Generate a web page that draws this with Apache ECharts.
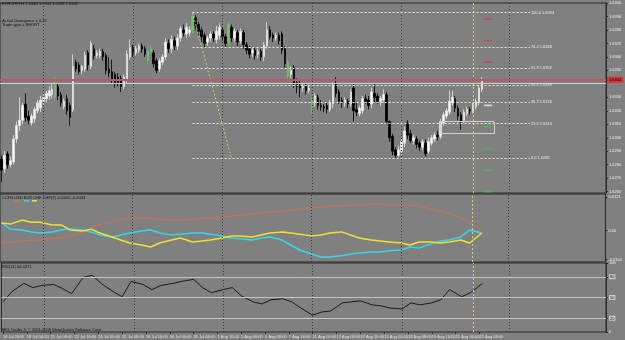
<!DOCTYPE html>
<html>
<head>
<meta charset="utf-8">
<script src="https://cdn.jsdelivr.net/npm/echarts@6/dist/echarts.min.js"></script>
<style>
  html, body { margin: 0; background: #808080; }
  #chart { width: 625px; height: 340px; }
</style>
</head>
<body>
<div id="chart"></div>
<script>
// H4 bars, 16 Jul 2008 16:00 .. 22 Aug 2008 12:00, plus empty room on the right
const barCount = 203
const timeLabels = ['16 Jul 2008', '18 Jul 00:00', '21 Jul 08:00', '22 Jul 16:00', '24 Jul 00:00',
  '25 Jul 08:00', '28 Jul 16:00', '30 Jul 00:00', '31 Jul 08:00', '1 Aug 16:00', '5 Aug 00:00',
  '6 Aug 08:00', '7 Aug 16:00', '11 Aug 00:00', '12 Aug 08:00', '13 Aug 16:00', '15 Aug 00:00',
  '18 Aug 08:00', '19 Aug 16:00', '21 Aug 00:00', '22 Aug 08:00']
const priceTicks = [1.6260, 1.6270, 1.6280, 1.6290, 1.6300, 1.6310, 1.6320, 1.6330,
  1.6350, 1.6360, 1.6370, 1.6380, 1.6390, 1.6400]

const opens = [1.6284, 1.6277, 1.6288, 1.6280, 1.6282, 1.6299, 1.6309, 1.6313, 1.6325, 1.6316,
  1.6311, 1.6314, 1.6320, 1.6322, 1.6327, 1.6329, 1.6331, 1.6332, 1.6330, 1.6338,
  1.6332, 1.6323, 1.6329, 1.6324, 1.6321, 1.6356, 1.6354, 1.6350, 1.6351, 1.6363,
  1.6353, 1.6366, 1.6361, 1.6361, 1.6364, 1.6361, 1.6351, 1.6349, 1.6347, 1.6345,
  1.6344, 1.6338, 1.6343, 1.6360, 1.6367, 1.6363, 1.6365, 1.6368, 1.6366, 1.6358,
  1.6364, 1.6363, 1.6357, 1.6351, 1.6356, 1.6360, 1.6370, 1.6366, 1.6372, 1.6368,
  1.6374, 1.6380, 1.6377, 1.6378, 1.6380, 1.6389, 1.6384, 1.6380, 1.6376, 1.6371,
  1.6374, 1.6377, 1.6373, 1.6376, 1.6380, 1.6375, 1.6371, 1.6382, 1.6374, 1.6378,
  1.6372, 1.6378, 1.6369, 1.6366, 1.6363, 1.6365, 1.6362, 1.6364, 1.6360, 1.6368,
  1.6380, 1.6376, 1.6374, 1.6376, 1.6377, 1.6366, 1.6356, 1.6347, 1.6352, 1.6341,
  1.6339, 1.6337, 1.6338, 1.6335, 1.6321, 1.6326, 1.6330, 1.6324, 1.6323, 1.6324,
  1.6321, 1.6325, 1.6340, 1.6334, 1.6328, 1.6326, 1.6327, 1.6325, 1.6337, 1.6321,
  1.6318, 1.6320, 1.6329, 1.6328, 1.6325, 1.6333, 1.6331, 1.6327, 1.6328, 1.6332,
  1.6312, 1.6301, 1.6291, 1.6287, 1.6290, 1.6296, 1.6311, 1.6303, 1.6298, 1.6299,
  1.6296, 1.6293, 1.6296, 1.6290, 1.6296, 1.6299, 1.6302, 1.6301, 1.6311, 1.6316,
  1.6319, 1.6326, 1.6329, 1.6322, 1.6317, 1.6313, 1.6318, 1.6321, 1.6320, 1.6323,
  1.6326, 1.6336]
const closes = [1.6276, 1.6287, 1.6280, 1.6283, 1.6299, 1.6309, 1.6313, 1.6324, 1.6315, 1.6313,
  1.6316, 1.6321, 1.6326, 1.6328, 1.6330, 1.6333, 1.6335, 1.6336, 1.6339, 1.6331,
  1.6326, 1.6327, 1.6320, 1.6315, 1.6353, 1.6351, 1.6349, 1.6353, 1.6361, 1.6354,
  1.6370, 1.6361, 1.6363, 1.6364, 1.6360, 1.6350, 1.6348, 1.6343, 1.6340, 1.6341,
  1.6338, 1.6345, 1.6362, 1.6367, 1.6363, 1.6366, 1.6368, 1.6366, 1.6362, 1.6364,
  1.6366, 1.6355, 1.6350, 1.6357, 1.6360, 1.6371, 1.6366, 1.6373, 1.6368, 1.6374,
  1.6381, 1.6378, 1.6382, 1.6380, 1.6390, 1.6383, 1.6379, 1.6375, 1.6370, 1.6374,
  1.6377, 1.6374, 1.6379, 1.6382, 1.6375, 1.6370, 1.6384, 1.6374, 1.6379, 1.6371,
  1.6379, 1.6369, 1.6365, 1.6362, 1.6365, 1.6361, 1.6364, 1.6360, 1.6369, 1.6380,
  1.6375, 1.6374, 1.6376, 1.6372, 1.6365, 1.6355, 1.6346, 1.6350, 1.6340, 1.6338,
  1.6337, 1.6338, 1.6335, 1.6337, 1.6328, 1.6331, 1.6324, 1.6323, 1.6322, 1.6321,
  1.6326, 1.6339, 1.6333, 1.6327, 1.6326, 1.6328, 1.6325, 1.6334, 1.6320, 1.6319,
  1.6322, 1.6329, 1.6327, 1.6324, 1.6334, 1.6330, 1.6327, 1.6329, 1.6332, 1.6312,
  1.6300, 1.6290, 1.6287, 1.6291, 1.6297, 1.6305, 1.6302, 1.6298, 1.6300, 1.6295,
  1.6293, 1.6297, 1.6288, 1.6297, 1.6300, 1.6302, 1.6301, 1.6312, 1.6317, 1.6320,
  1.6327, 1.6330, 1.6322, 1.6316, 1.6312, 1.6319, 1.6321, 1.6320, 1.6324, 1.6327,
  1.6337, 1.6342]
const lows = [1.6267, 1.6274, 1.6277, 1.6278, 1.6280, 1.6296, 1.6305, 1.6310, 1.6312, 1.6310,
  1.6309, 1.6311, 1.6318, 1.6319, 1.6324, 1.6326, 1.6328, 1.6329, 1.6327, 1.6328,
  1.6323, 1.6321, 1.6317, 1.6309, 1.6319, 1.6349, 1.6347, 1.6347, 1.6349, 1.6350,
  1.6351, 1.6358, 1.6359, 1.6359, 1.6357, 1.6347, 1.6345, 1.6340, 1.6337, 1.6338,
  1.6334, 1.6336, 1.6341, 1.6358, 1.6360, 1.6361, 1.6363, 1.6363, 1.6360, 1.6355,
  1.6362, 1.6352, 1.6348, 1.6349, 1.6354, 1.6358, 1.6363, 1.6363, 1.6365, 1.6365,
  1.6371, 1.6375, 1.6374, 1.6375, 1.6377, 1.6380, 1.6376, 1.6371, 1.6367, 1.6368,
  1.6371, 1.6371, 1.6370, 1.6373, 1.6372, 1.6367, 1.6369, 1.6371, 1.6371, 1.6368,
  1.6370, 1.6366, 1.6362, 1.6359, 1.6360, 1.6358, 1.6359, 1.6357, 1.6357, 1.6366,
  1.6373, 1.6371, 1.6372, 1.6369, 1.6362, 1.6352, 1.6343, 1.6344, 1.6337, 1.6333,
  1.6330, 1.6334, 1.6332, 1.6333, 1.6318, 1.6323, 1.6321, 1.6320, 1.6319, 1.6318,
  1.6319, 1.6322, 1.6330, 1.6325, 1.6322, 1.6323, 1.6322, 1.6323, 1.6312, 1.6316,
  1.6316, 1.6318, 1.6325, 1.6321, 1.6322, 1.6326, 1.6325, 1.6324, 1.6326, 1.6310,
  1.6297, 1.6287, 1.6285, 1.6286, 1.6287, 1.6293, 1.6299, 1.6296, 1.6295, 1.6292,
  1.6290, 1.6291, 1.6286, 1.6288, 1.6294, 1.6297, 1.6298, 1.6299, 1.6309, 1.6314,
  1.6317, 1.6324, 1.6319, 1.6313, 1.6306, 1.6311, 1.6316, 1.6317, 1.6318, 1.6321,
  1.6324, 1.6334]
const highs = [1.6287, 1.6290, 1.6290, 1.6286, 1.6302, 1.6312, 1.6330, 1.6326, 1.6333, 1.6320,
  1.6318, 1.6323, 1.6328, 1.6331, 1.6333, 1.6335, 1.6338, 1.6340, 1.6345, 1.6340,
  1.6334, 1.6329, 1.6332, 1.6326, 1.6362, 1.6358, 1.6356, 1.6354, 1.6364, 1.6365,
  1.6372, 1.6369, 1.6365, 1.6366, 1.6366, 1.6363, 1.6360, 1.6358, 1.6349, 1.6348,
  1.6346, 1.6347, 1.6365, 1.6373, 1.6369, 1.6368, 1.6370, 1.6370, 1.6368, 1.6366,
  1.6368, 1.6365, 1.6359, 1.6359, 1.6362, 1.6374, 1.6373, 1.6376, 1.6375, 1.6377,
  1.6383, 1.6384, 1.6385, 1.6383, 1.6393, 1.6391, 1.6386, 1.6382, 1.6378, 1.6376,
  1.6379, 1.6379, 1.6383, 1.6385, 1.6382, 1.6377, 1.6386, 1.6384, 1.6381, 1.6380,
  1.6381, 1.6380, 1.6371, 1.6368, 1.6367, 1.6367, 1.6366, 1.6366, 1.6371, 1.6386,
  1.6383, 1.6378, 1.6378, 1.6378, 1.6379, 1.6368, 1.6358, 1.6353, 1.6354, 1.6344,
  1.6342, 1.6340, 1.6340, 1.6339, 1.6330, 1.6333, 1.6332, 1.6328, 1.6325, 1.6326,
  1.6328, 1.6341, 1.6345, 1.6336, 1.6330, 1.6330, 1.6329, 1.6336, 1.6340, 1.6326,
  1.6324, 1.6331, 1.6332, 1.6331, 1.6337, 1.6340, 1.6333, 1.6331, 1.6336, 1.6334,
  1.6313, 1.6303, 1.6293, 1.6294, 1.6299, 1.6308, 1.6313, 1.6306, 1.6302, 1.6301,
  1.6298, 1.6299, 1.6299, 1.6300, 1.6302, 1.6304, 1.6305, 1.6314, 1.6319, 1.6322,
  1.6335, 1.6335, 1.6331, 1.6324, 1.6319, 1.6321, 1.6323, 1.6323, 1.6326, 1.6329,
  1.6339, 1.6345]
const greenBars = [18, 49, 50, 64, 76, 96, 104]

const bidPrice = 1.6342
const fibHigh = 1.6393
const fibLow = 1.6285
const fibRatios = [1, 0.764, 0.618, 0.5, 0.382, 0.236, 0]
const targetsRed = [1.6388, 1.6372, 1.6356, 1.6340]
const targetsWhite = [1.6324]
const targetsGreen = [1.6308, 1.6292, 1.6276, 1.6260]
// gray box: from bar, to bar, top price, bottom price
const boxBars = [147, 165]
const boxPrices = [1.6312, 1.6303]

// weekly separators and the vertical cursor line (bar index)
const weekLines = [14, 44, 74, 104, 134, 170]
const cursorBar = 158

// CCFN and RSI, read at these bars
const indBars = [0, 3, 7, 10, 13, 17, 20, 23, 27, 30, 33, 37, 40, 43, 47, 50, 53, 57, 60, 64, 67, 70,
  74, 77, 80, 84, 87, 90, 94, 97, 100, 104, 107, 110, 114, 117, 120, 124, 127, 130, 134, 137, 140,
  144, 147, 150, 154, 157, 161]
const usdLine = [-0.0045, -0.0041, -0.0038, -0.0034, -0.0034, -0.0030, -0.0027, -0.0020, -0.0009, 0.0009,
  0.0020, 0.0030, 0.0041, 0.0045, 0.0045, 0.0045, 0.0041, 0.0038, 0.0038, 0.0041,
  0.0045, 0.0045, 0.0048, 0.0052, 0.0055, 0.0059, 0.0063, 0.0066, 0.0070, 0.0073,
  0.0077, 0.0081, 0.0084, 0.0088, 0.0088, 0.0091, 0.0091, 0.0095, 0.0095, 0.0091,
  0.0091, 0.0091, 0.0088, 0.0077, 0.0070, 0.0063, 0.0045, 0.0030, 0.0002]
const eurLine = [0.0027, 0.0005, 0.0002, -0.0005, -0.0009, -0.0005, 0.0002, 0.0005, 0.0002, -0.0005,
  -0.0016, -0.0023, -0.0016, -0.0009, -0.0002, 0.0002, -0.0009, -0.0016, -0.0013, -0.0009,
  -0.0009, -0.0013, -0.0020, -0.0027, -0.0030, -0.0034, -0.0027, -0.0023, -0.0034, -0.0052,
  -0.0070, -0.0084, -0.0095, -0.0095, -0.0091, -0.0084, -0.0081, -0.0077, -0.0077, -0.0073,
  -0.0070, -0.0059, -0.0063, -0.0048, -0.0038, -0.0034, -0.0023, 0.0002, -0.0009]
const chfLine = [0.0027, 0.0023, 0.0038, 0.0030, 0.0030, 0.0020, 0.0020, 0.0002, -0.0002, 0.0005,
  -0.0009, -0.0023, -0.0034, -0.0045, -0.0052, -0.0059, -0.0045, -0.0034, -0.0027, -0.0041,
  -0.0038, -0.0034, -0.0027, -0.0020, -0.0020, -0.0023, -0.0016, -0.0009, -0.0005, -0.0009,
  -0.0013, -0.0020, -0.0016, -0.0009, -0.0005, -0.0016, -0.0027, -0.0034, -0.0038, -0.0041,
  -0.0045, -0.0052, -0.0041, -0.0041, -0.0045, -0.0041, -0.0034, -0.0045, -0.0009]
const ccfnTicks = [-0.0104, 0, 0.0121]
const rsiLine = [43.7, 58.5, 70.4, 64.4, 67.4, 68.9, 63.0, 55.6, 79.3, 82.2,
  70.4, 58.5, 51.1, 73.3, 68.9, 61.5, 67.4, 70.4, 73.3, 76.3,
  64.4, 57.0, 61.5, 64.4, 52.6, 43.7, 40.7, 46.7, 48.1, 43.7,
  34.8, 24.4, 28.9, 30.4, 42.2, 43.7, 45.2, 39.3, 37.8, 34.8,
  33.3, 42.2, 39.3, 42.2, 46.7, 61.5, 51.1, 57.0, 70.4]
const rsiLevels = [80, 50, 20]

const font = 'Liberation Sans'
const frame = '#2a2a2a'
const categories = Array.from({ length: barCount }, (_, i) => i)
const labelAt = (i) => i % 8 === 0 && i / 8 < timeLabels.length

const chart = echarts.init(document.getElementById('chart'))

const candles = opens.map((o, i) => {
  const item = { value: [o, closes[i], lows[i], highs[i]] }
  if (greenBars.includes(i)) {
    item.itemStyle = { color: '#6cc46c', color0: '#6cc46c', borderColor: '#6cc46c', borderColor0: '#6cc46c' }
  }
  return item
})

const verticals = weekLines.map(i => ({ xAxis: i, lineStyle: { color: '#3a3a3a', type: [1, 2], width: 1 } }))
  .concat([{ xAxis: cursorBar, lineStyle: { color: '#d8d068', type: [2, 2], width: 1 } }])

function vMarks (extra) {
  return {
    silent: true,
    precision: 6,
    symbol: ['none', 'none'],
    label: { show: false },
    animation: false,
    data: verticals.concat(extra || [])
  }
}

const fibMarks = fibRatios.map(r => {
  const v = fibLow + r * (fibHigh - fibLow)
  return [{
    coord: [64, v],
    label: { formatter: (r * 100).toFixed(1) + ' ' + v.toFixed(4) }
  }, { coord: [177, v] }]
})

// box outline drawn as four marker segments
const boxEdges = [
  [[boxBars[0], boxPrices[0]], [boxBars[1], boxPrices[0]]],
  [[boxBars[0], boxPrices[1]], [boxBars[1], boxPrices[1]]],
  [[boxBars[0], boxPrices[0]], [boxBars[0], boxPrices[1]]],
  [[boxBars[1], boxPrices[0]], [boxBars[1], boxPrices[1]]]
].map(([a, b]) => [{ coord: a }, { coord: b }])

const xAxisBase = (grid) => ({
  type: 'category',
  gridIndex: grid,
  data: categories,
  boundaryGap: true,
  axisLine: { show: false },
  axisTick: { show: false },
  axisLabel: { show: false },
  splitLine: { show: false }
})

const lineOf = (values) => values.map((v, i) => [indBars[i], v])

const option = {
  backgroundColor: '#808080',
  animation: false,
  textStyle: { fontFamily: font },
  grid: [
    { left: 0, right: 19, top: 3, height: 190, show: true, borderColor: frame, borderWidth: 1 },
    { left: 0, right: 19, top: 194, height: 68, show: true, borderColor: frame, borderWidth: 1 },
    { left: 0, right: 19, top: 263, height: 69, show: true, borderColor: frame, borderWidth: 1 }
  ],
  xAxis: [
    xAxisBase(0),
    xAxisBase(1),
    Object.assign(xAxisBase(2), {
      axisTick: { show: true, interval: labelAt, length: 2, alignWithLabel: true, lineStyle: { color: frame } },
      axisLabel: {
        show: true,
        interval: labelAt,
        formatter: (v, i) => timeLabels[i / 8],
        align: 'left',
        margin: 3,
        fontSize: 4,
        fontFamily: font,
        color: '#e6e6e6'
      }
    })
  ],
  yAxis: [
    {
      type: 'value',
      gridIndex: 0,
      position: 'right',
      min: 1.6259,
      max: 1.6400,
      axisLine: { show: true, lineStyle: { color: frame } },
      axisTick: { show: true, length: 2, customValues: priceTicks, lineStyle: { color: frame } },
      axisLabel: { customValues: priceTicks, formatter: v => v.toFixed(4), fontSize: 4, fontFamily: font, color: '#eeeeee', margin: 3 },
      splitLine: { show: false }
    },
    {
      type: 'value',
      gridIndex: 1,
      position: 'right',
      min: -0.0113,
      max: 0.0131,
      axisLine: { show: true, lineStyle: { color: frame } },
      axisTick: { show: true, length: 2, customValues: ccfnTicks, lineStyle: { color: frame } },
      axisLabel: { customValues: ccfnTicks, formatter: v => (v === 0 ? '0.00' : v.toFixed(4)), fontSize: 4, fontFamily: font, color: '#eeeeee', margin: 3 },
      splitLine: { show: false }
    },
    {
      type: 'value',
      gridIndex: 2,
      position: 'right',
      min: 0,
      max: 100,
      axisLine: { show: true, lineStyle: { color: frame } },
      axisTick: { show: true, length: 2, customValues: [0, 20, 50, 80, 100], lineStyle: { color: frame } },
      axisLabel: {
        customValues: [0, 20, 50, 80, 100],
        formatter: v => (rsiLevels.includes(v) ? '{b|' + v + '}' : String(v)),
        rich: { b: { backgroundColor: '#c8c8c8', color: '#222', fontSize: 4, padding: [1, 1, 0, 1] } },
        fontSize: 4,
        fontFamily: font,
        color: '#eeeeee',
        margin: 3
      },
      splitLine: { show: false }
    }
  ],
  graphic: [
    { type: 'text', left: 2, top: 2, style: { text: 'EURCHF,H4 1.6340 1.6344 1.6338 1.6342', fontSize: 4, fontFamily: font, fill: '#111' } },
    { type: 'text', left: 2, top: 18.5, style: { text: 'Actual Divergence = 0.26', fontSize: 4, fontFamily: font, fill: '#111' } },
    { type: 'text', left: 2, top: 23, style: { text: 'Trade type = SHORT', fontSize: 4, fontFamily: font, fill: '#111' } },
    { type: 'text', left: 2, top: 195.5, style: { text: 'CCFN USD EUR CHF CHF(2) -0.0002 -0.0003', fontSize: 4, fontFamily: font, fill: '#111' } },
    { type: 'rect', shape: { x: 14, y: 200, width: 5, height: 1.5 }, style: { fill: '#d07050' } },
    { type: 'rect', shape: { x: 24, y: 200, width: 5, height: 1.5 }, style: { fill: '#30d8e8' } },
    { type: 'rect', shape: { x: 32, y: 200, width: 5, height: 1.5 }, style: { fill: '#f0e030' } },
    { type: 'text', left: 2, top: 264.5, style: { text: 'RSI(14) 64.4371', fontSize: 4, fontFamily: font, fill: '#111' } },
    { type: 'text', left: 2, top: 327.5, style: { text: 'MIG Trader 4, \u00a9 2001-2008 MetaQuotes Software Corp.', fontSize: 4, fontFamily: font, fill: '#111' } }
  ],
  series: [
    {
      name: 'EURCHF',
      type: 'candlestick',
      xAxisIndex: 0,
      yAxisIndex: 0,
      barWidth: 2,
      data: candles,
      itemStyle: { color: '#f6f6f6', color0: '#000000', borderColor: '#e4e4e4', borderColor0: '#000000', borderWidth: 0.8 },
      markLine: vMarks()
    },
    {
      name: 'fibo',
      type: 'line',
      xAxisIndex: 0,
      yAxisIndex: 0,
      data: [[64, fibHigh], [77, fibLow]],
      symbol: 'circle',
      symbolSize: 2,
      itemStyle: { color: '#e0e080' },
      lineStyle: { color: '#d0d070', width: 1, type: [2, 2] },
      markLine: {
        silent: true,
        precision: 6,
        symbol: ['none', 'none'],
        lineStyle: { color: '#e8e8e8', width: 1, type: [2, 2] },
        label: { show: true, position: 'end', distance: 1, fontSize: 4, fontFamily: font, color: '#e8e8e8' },
        data: fibMarks
      }
    },
    {
      name: 'up targets',
      type: 'scatter',
      xAxisIndex: 0,
      yAxisIndex: 0,
      symbol: 'rect',
      symbolSize: [8, 1.6],
      itemStyle: { color: '#c84646' },
      data: targetsRed.map(v => [163, v]),
      markLine: {
        silent: true,
        precision: 6,
        symbol: ['none', 'none'],
        label: { show: false },
        lineStyle: { color: '#cfcfcf', width: 1, type: 'solid' },
        data: boxEdges
      }
    },
    {
      name: 'pivot',
      type: 'scatter',
      xAxisIndex: 0,
      yAxisIndex: 0,
      symbol: 'rect',
      symbolSize: [8, 1.6],
      itemStyle: { color: '#f4f4f4' },
      data: targetsWhite.map(v => [163, v]),
      markLine: {
        silent: true,
        precision: 6,
        symbol: ['none', 'none'],
        label: { show: false },
        data: [
          { yAxis: bidPrice - 0.00017, lineStyle: { color: '#d2d2d2', width: 1, type: 'solid' } },
          {
            yAxis: bidPrice + 0.0001,
            lineStyle: { color: '#b85a5a', width: 2, type: 'solid' },
            label: {
              show: true,
              position: 'end',
              distance: 1,
              formatter: bidPrice.toFixed(4),
              backgroundColor: '#d83030',
              color: '#000',
              fontSize: 4,
              fontFamily: font,
              padding: [1, 2]
            }
          }
        ]
      }
    },
    {
      name: 'down targets',
      type: 'scatter',
      xAxisIndex: 0,
      yAxisIndex: 0,
      symbol: 'rect',
      symbolSize: [8, 1.6],
      itemStyle: { color: '#48bc48' },
      data: targetsGreen.map(v => [163, v])
    },
    {
      name: 'USD',
      type: 'line',
      xAxisIndex: 1,
      yAxisIndex: 1,
      data: lineOf(usdLine),
      showSymbol: false,
      lineStyle: { color: '#d07050', width: 1 },
      markLine: vMarks()
    },
    {
      name: 'EUR',
      type: 'line',
      xAxisIndex: 1,
      yAxisIndex: 1,
      data: lineOf(eurLine),
      showSymbol: false,
      lineStyle: { color: '#30d8e8', width: 1.5 }
    },
    {
      name: 'CHF',
      type: 'line',
      xAxisIndex: 1,
      yAxisIndex: 1,
      data: lineOf(chfLine),
      showSymbol: false,
      lineStyle: { color: '#f0e030', width: 1.5 }
    },
    {
      name: 'RSI',
      type: 'line',
      xAxisIndex: 2,
      yAxisIndex: 2,
      data: lineOf(rsiLine),
      showSymbol: false,
      lineStyle: { color: '#1a1a1a', width: 1 },
      markLine: vMarks(rsiLevels.map(v => ({ yAxis: v, lineStyle: { color: '#c4c4c4', width: 1, type: 'solid' } })))
    }
  ]
}

chart.setOption(option)
</script>
</body>
</html>
